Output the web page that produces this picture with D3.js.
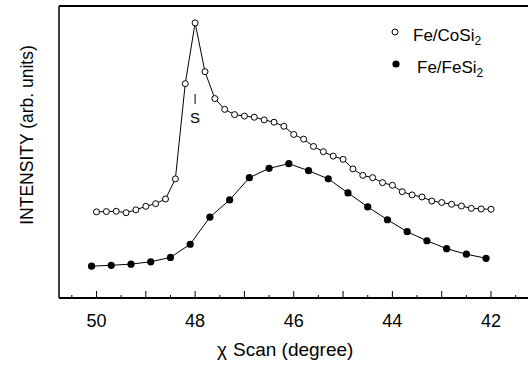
<!DOCTYPE html>
<html lang="en">
<head>
    <meta charset="UTF-8">
    <title>Chi scan intensity</title>
    <script src="https://d3js.org/d3.v7.min.js"></script>
    <style>
        body { margin: 0; background: white; }
        svg { display: block; font-family: "Liberation Sans", Arial, sans-serif; }
    </style>
</head>
<body>
    <svg id="chart" width="528" height="372"></svg>

    <script>
        // chi angle (degree) for each series
        const chiCoSi = [50.0, 49.8, 49.6, 49.4, 49.2, 49.0, 48.8, 48.6, 48.4, 48.2,
            48.0, 47.8, 47.6, 47.4, 47.2, 47.0, 46.8, 46.6, 46.4, 46.2,
            46.0, 45.8, 45.6, 45.4, 45.2, 45.0, 44.8, 44.6, 44.4, 44.2,
            44.0, 43.8, 43.6, 43.4, 43.2, 43.0, 42.8, 42.6, 42.4, 42.2, 42.0];
        const intCoSi = [29.5, 29.6, 29.7, 29.2, 30.2, 31.4, 32.3, 33.9, 40.8, 73.4,
            94.2, 77.5, 68.3, 64.6, 62.8, 62.3, 61.9, 61.0, 60.2, 58.8,
            56.0, 54.4, 51.9, 50.1, 48.6, 47.5, 44.2, 42.0, 41.2, 39.5,
            38.6, 36.4, 35.3, 34.6, 33.2, 32.7, 32.1, 31.5, 30.7, 30.5, 30.4];

        const chiFeSi = [50.1, 49.7, 49.3, 48.9, 48.5, 48.1, 47.7, 47.3, 46.9, 46.5,
            46.1, 45.7, 45.3, 44.9, 44.5, 44.1, 43.7, 43.3, 42.9, 42.5, 42.1];
        const intFeSi = [10.9, 11.2, 11.6, 12.4, 13.9, 18.4, 27.7, 33.6, 41.2, 44.4,
            46.0, 43.6, 40.8, 36.0, 31.2, 26.8, 22.7, 19.6, 16.9, 15.0, 13.6];

        const tickValues = [50, 48, 46, 44, 42];
        const legendLabels = [["Fe/CoSi", "2"], ["Fe/FeSi", "2"]];

        const svg = d3.select("#chart");

        const plot = { left: 59, top: 6, bottom: 298, right: 528 };

        // reversed x axis, 50 on the left
        const x = d3.scaleLinear()
            .domain([50.76, 41.25])
            .range([plot.left, plot.right]);

        const y = d3.scaleLinear()
            .domain([0, 100])
            .range([plot.bottom, plot.top]);

        // frame: left, top, bottom
        svg.append("line")
            .attr("x1", plot.left).attr("x2", plot.left)
            .attr("y1", plot.top).attr("y2", plot.bottom)
            .attr("stroke", "black").attr("stroke-width", 1.5);
        svg.append("line")
            .attr("x1", plot.left).attr("x2", plot.right)
            .attr("y1", plot.top).attr("y2", plot.top)
            .attr("stroke", "black").attr("stroke-width", 2);

        // bottom axis, ticks pointing inward
        const minorTicks = d3.range(41.5, 51, 0.5).filter(v => v % 1 !== 0);
        const majorTicks = d3.range(42, 51, 1);

        const xAxis = svg.append("g")
            .attr("transform", `translate(0, ${plot.bottom})`);

        xAxis.append("line")
            .attr("x1", plot.left).attr("x2", plot.right)
            .attr("stroke", "black").attr("stroke-width", 2);

        xAxis.selectAll(".major")
            .data(majorTicks)
            .enter().append("line")
            .attr("x1", d => x(d)).attr("x2", d => x(d))
            .attr("y1", 0).attr("y2", -7)
            .attr("stroke", "black").attr("stroke-width", 1);

        xAxis.selectAll(".minor")
            .data(minorTicks)
            .enter().append("line")
            .attr("x1", d => x(d)).attr("x2", d => x(d))
            .attr("y1", 0).attr("y2", -3)
            .attr("stroke", "black").attr("stroke-width", 1);

        xAxis.selectAll(".label")
            .data(tickValues)
            .enter().append("text")
            .attr("x", d => x(d))
            .attr("y", 29)
            .attr("text-anchor", "middle")
            .attr("font-size", 18)
            .text(d => d);

        // axis titles
        const xTitle = svg.append("text")
            .attr("y", 356)
            .attr("font-size", 19);
        xTitle.append("tspan").attr("x", 217).text("\u03C7");
        xTitle.append("tspan").attr("x", 233).text("Scan (degree)");

        svg.append("text")
            .attr("transform", "translate(33, 135) rotate(-90)")
            .attr("text-anchor", "middle")
            .attr("font-size", 17.5)
            .text("INTENSITY (arb. units)");

        // series
        const line = d3.line()
            .x(d => x(d[0]))
            .y(d => y(d[1]));

        const coSi = d3.zip(chiCoSi, intCoSi);
        const feSi = d3.zip(chiFeSi, intFeSi);

        svg.append("path")
            .datum(feSi)
            .attr("d", line)
            .attr("fill", "none")
            .attr("stroke", "black")
            .attr("stroke-width", 1);

        svg.append("path")
            .datum(coSi)
            .attr("d", line)
            .attr("fill", "none")
            .attr("stroke", "black")
            .attr("stroke-width", 1);

        svg.selectAll(".fesi")
            .data(feSi)
            .enter().append("circle")
            .attr("cx", d => x(d[0]))
            .attr("cy", d => y(d[1]))
            .attr("r", 3.6)
            .attr("fill", "black");

        svg.selectAll(".cosi")
            .data(coSi)
            .enter().append("circle")
            .attr("cx", d => x(d[0]))
            .attr("cy", d => y(d[1]))
            .attr("r", 3)
            .attr("fill", "white")
            .attr("stroke", "black")
            .attr("stroke-width", 1);

        // "S" marker under the peak
        svg.append("line")
            .attr("x1", x(48.0)).attr("x2", x(48.0))
            .attr("y1", 94).attr("y2", 104)
            .attr("stroke", "black").attr("stroke-width", 1);
        svg.append("text")
            .attr("x", x(48.0))
            .attr("y", 123)
            .attr("text-anchor", "middle")
            .attr("font-size", 15)
            .text("S");

        // legend
        const legend = svg.append("g");
        const legendY = [32, 64];

        legend.append("circle")
            .attr("cx", 395).attr("cy", legendY[0]).attr("r", 3)
            .attr("fill", "white").attr("stroke", "black");
        legend.append("circle")
            .attr("cx", 396).attr("cy", legendY[1]).attr("r", 3.6)
            .attr("fill", "black");

        legend.selectAll("text")
            .data(legendLabels)
            .enter().append("text")
            .attr("x", (d, i) => i === 0 ? 413 : 417)
            .attr("y", (d, i) => legendY[i] + 9)
            .attr("font-size", 17)
            .each(function (d) {
                const t = d3.select(this);
                t.append("tspan").text(d[0]);
                t.append("tspan").attr("font-size", 12).attr("dy", 4).text(d[1]);
            });
    </script>
</body>
</html>
